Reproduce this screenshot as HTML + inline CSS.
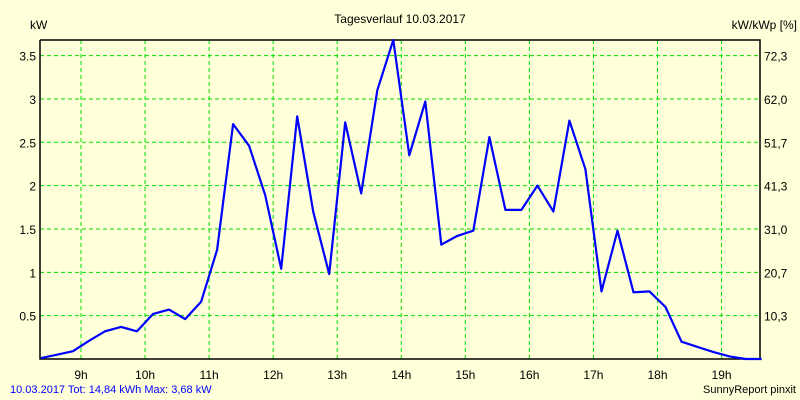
<!DOCTYPE html>
<html><head><meta charset="utf-8"><style>
body{margin:0;background:#ffffd9;}
svg{display:block;font-family:"Liberation Sans",sans-serif;font-size:12px;}
</style></head><body>
<svg id="chart" width="800" height="400">
<rect width="800" height="400" fill="#ffffd9"/>
<text x="400" y="23" text-anchor="middle">Tagesverlauf 10.03.2017</text>
<text x="30" y="29">kW</text>
<text x="797" y="29" text-anchor="end">kW/kWp [%]</text>
<g id="grid"></g>
<g id="axes"></g>
<g id="series"></g>
<text x="10" y="393" fill="#0000ff" font-size="11">10.03.2017 Tot: 14,84 kWh Max: 3,68 kW</text>
<text x="796" y="393" text-anchor="end" font-size="11">SunnyReport pinxit</text>
</svg>
<script>
const yTicks=[0.5,1,1.5,2,2.5,3,3.5];
const yTickLabels=["0.5","1","1.5","2","2.5","3","3.5"];
const y2TickLabels=["10,3","20,7","31,0","41,3","51,7","62,0","72,3"];
const xTicks=[9,10,11,12,13,14,15,16,17,18,19];
const xTickLabels=["9h","10h","11h","12h","13h","14h","15h","16h","17h","18h","19h"];
const startHour=8.375, stepHour=0.25;
const powerKW=[0.01,0.05,0.09,0.21,0.32,0.37,0.32,0.52,0.57,0.46,0.66,1.26,2.71,2.46,1.89,1.04,2.80,1.70,0.98,2.73,1.91,3.10,3.68,2.35,2.97,1.32,1.42,1.48,2.56,1.72,1.72,2.00,1.70,2.75,2.19,0.78,1.48,0.77,0.78,0.60,0.20,0.14,0.08,0.03,0,0];
const L=40,R=760,T=40,B=359,xMin=8.36,xMax=19.6,yMax=3.68;
const sx=t=>L+(t-xMin)/(xMax-xMin)*(R-L);
const sy=v=>B-v/yMax*(B-T);
const NS="http://www.w3.org/2000/svg";
function mk(tag,attrs,parent,text){const e=document.createElementNS(NS,tag);for(const k in attrs)e.setAttribute(k,attrs[k]);if(text!==undefined)e.textContent=text;parent.appendChild(e);return e;}
const grid=document.getElementById('grid'),axes=document.getElementById('axes'),series=document.getElementById('series');
yTicks.forEach((v,i)=>{
 const l=mk('line',{x1:L,x2:R,y1:sy(v),y2:sy(v),stroke:'#00e000','stroke-dasharray':'4,3'},grid);
 
 
 const t=mk('text',{x:L-4,y:sy(v)+5,'text-anchor':'end'},axes,yTickLabels[i]);
 
 
 const t2=mk('text',{x:R+4,y:sy(v)+5},axes,y2TickLabels[i]);
 
 
});
xTicks.forEach((h,i)=>{
 const l=mk('line',{x1:sx(h),x2:sx(h),y1:T,y2:B,stroke:'#00e000','stroke-dasharray':'4,3'},grid);
 
 
 const t=mk('text',{x:sx(h),y:B+20,'text-anchor':'middle'},axes,xTickLabels[i]);
 
 
});
const frame=mk('path',{d:`M${L},${T}V${B}H${R}V${T}H${L}`,fill:'none',stroke:'#000','stroke-width':1.5},axes);


const pts=powerKW.map((v,i)=>sx(startHour+i*stepHour).toFixed(1)+','+sy(v).toFixed(1)).join(' ');
const line=mk('polyline',{points:pts,fill:'none',stroke:'#0000ff','stroke-width':2.2,'stroke-linejoin':'round'},series);


</script>
</body></html>
